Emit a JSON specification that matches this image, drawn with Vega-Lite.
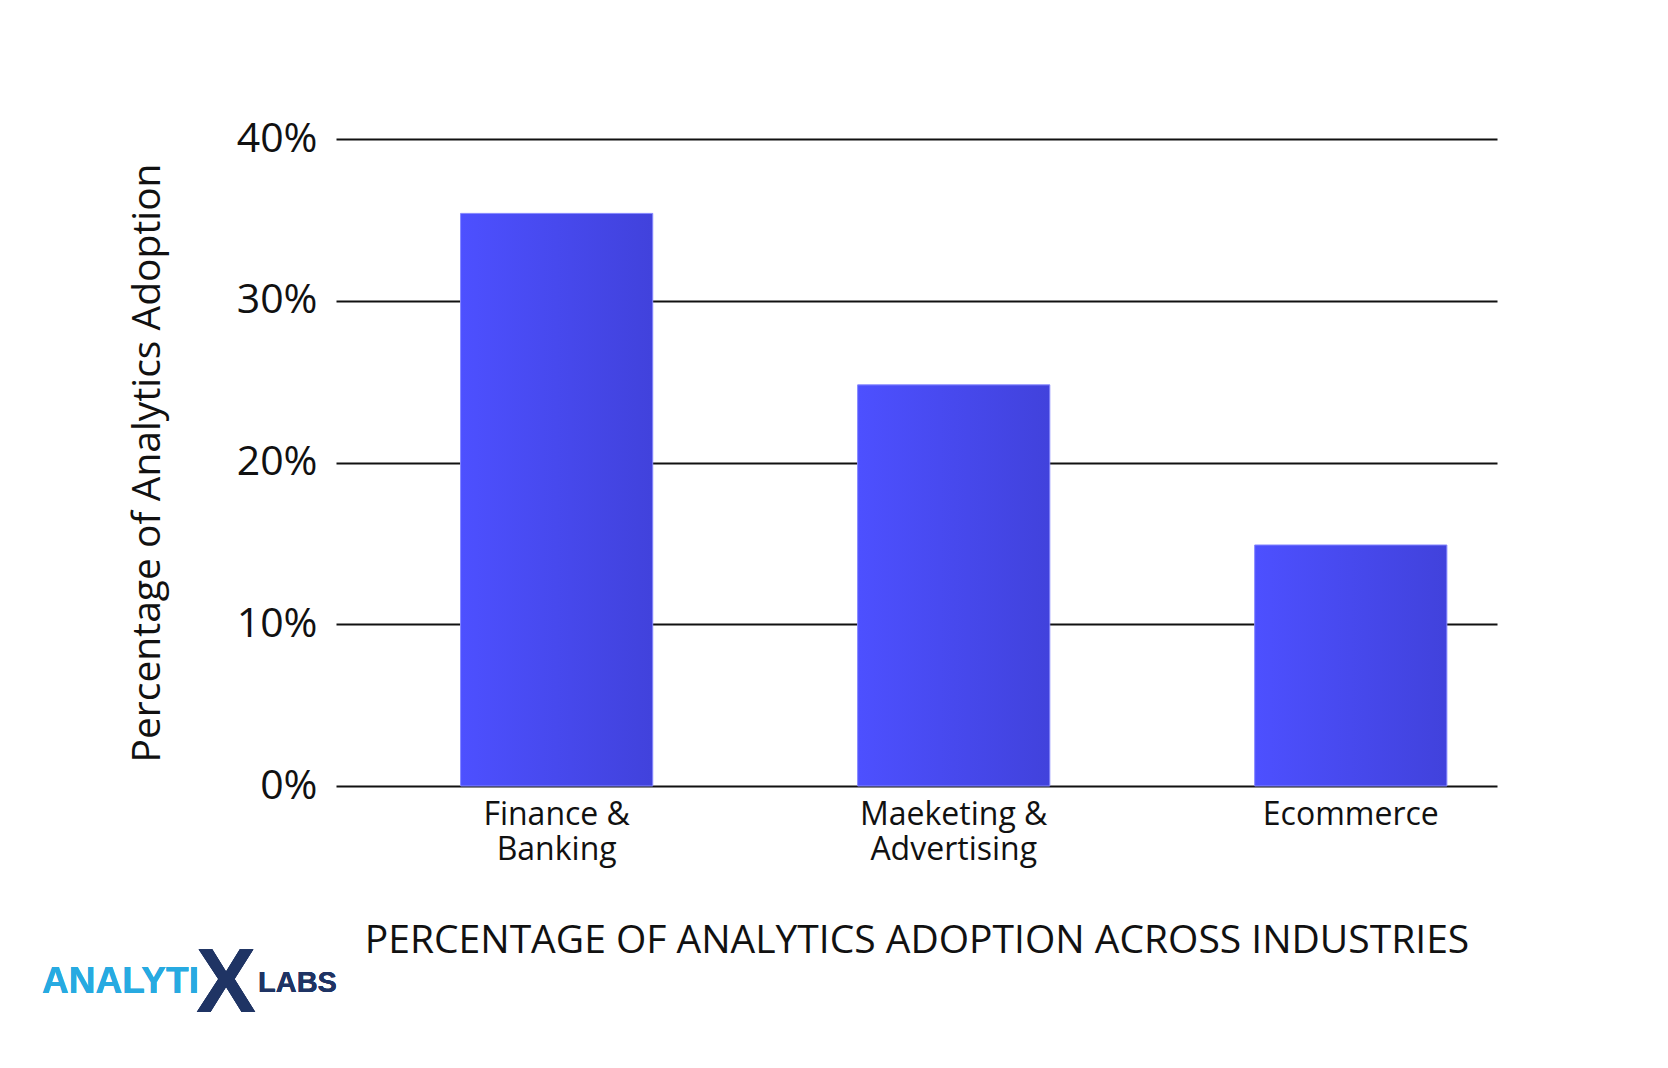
{
  "$schema": "https://vega.github.io/schema/vega-lite/v6.json",
  "width": 1161,
  "height": 647,
  "autosize": {"type": "none"},
  "padding": {"left": 336, "top": 139, "right": 171, "bottom": 282},
  "background": "white",
  "config": {"view": {"stroke": null}, "font": "Open Sans"},
  "data": {"values": [
    {"industry": "Finance &|Banking", "adoption": 35.4},
    {"industry": "Maeketing &|Advertising", "adoption": 24.8},
    {"industry": "Ecommerce", "adoption": 14.9}
  ]},
  "layer": [
    {
      "mark": {
        "type": "bar",
        "color": {"gradient": "linear", "x1": 0, "x2": 1, "y1": 0, "y2": 0,
          "stops": [{"offset": 0, "color": "#4d50ff"}, {"offset": 1, "color": "#4142dc"}]},
        "stroke": "#8587ff",
        "strokeWidth": 1
      },
      "encoding": {
        "x": {
          "field": "industry", "type": "nominal", "sort": null,
          "scale": {"paddingInner": 0.516, "paddingOuter": 0.22, "align": 0.713},
          "axis": {
            "title": "PERCENTAGE OF ANALYTICS ADOPTION ACROSS INDUSTRIES",
            "labelExpr": "split(datum.value, '|')",
            "labelAngle": 0,
            "labelFontSize": 32,
            "labelLimit": 400,
            "labelColor": "#111111",
            "labelPadding": 13,
            "labelLineHeight": 35,
            "domain": false,
            "ticks": false,
            "titleFontSize": 39,
            "titleFontWeight": "normal",
            "titleColor": "#111111",
            "titlePadding": 56
          }
        },
        "y": {
          "field": "adoption", "type": "quantitative",
          "scale": {"domain": [0, 40], "nice": false},
          "axis": {
            "values": [0, 10, 20, 30, 40],
            "labelExpr": "datum.value + '%'",
            "grid": true,
            "gridColor": "#111111",
            "gridWidth": 2,
            "domain": false,
            "ticks": false,
            "labelFontSize": 41,
            "labelPadding": 19,
            "labelColor": "#111111",
            "title": "Percentage of Analytics Adoption",
            "titleFontSize": 39,
            "titleFontWeight": "normal",
            "titleColor": "#111111",
            "titlePadding": 69
          }
        }
      }
    },
    {
      "mark": {"type": "text", "text": "ANALYTI", "font": "Liberation Sans", "fontWeight": "bold", "fontSize": 37, "color": "#27aae1", "align": "left", "baseline": "alphabetic"},
      "encoding": {
        "x": {"datum": -294, "type": "quantitative", "scale": {"domain": [0, 1161], "nice": false, "zero": false}, "axis": null},
        "y": {"datum": -12.8, "type": "quantitative", "scale": {"domain": [0, 40], "nice": false}}
      }
    },
    {
      "mark": {"type": "text", "text": "X", "font": "Liberation Sans", "fontWeight": "bold", "fontSize": 90, "color": "#1f3464", "align": "left", "baseline": "alphabetic"},
      "encoding": {
        "x": {"datum": -140, "type": "quantitative", "scale": {"domain": [0, 1161], "nice": false, "zero": false}, "axis": null},
        "y": {"datum": -14.0, "type": "quantitative", "scale": {"domain": [0, 40], "nice": false}}
      }
    },
    {
      "mark": {"type": "text", "text": "LABS", "font": "Liberation Sans", "fontWeight": "bold", "fontSize": 29, "color": "#1f3464", "align": "left", "baseline": "alphabetic"},
      "encoding": {
        "x": {"datum": -78, "type": "quantitative", "scale": {"domain": [0, 1161], "nice": false, "zero": false}, "axis": null},
        "y": {"datum": -12.75, "type": "quantitative", "scale": {"domain": [0, 40], "nice": false}}
      }
    }
  ],
  "resolve": {"scale": {"x": "independent"}, "axis": {"x": "independent"}}
}
